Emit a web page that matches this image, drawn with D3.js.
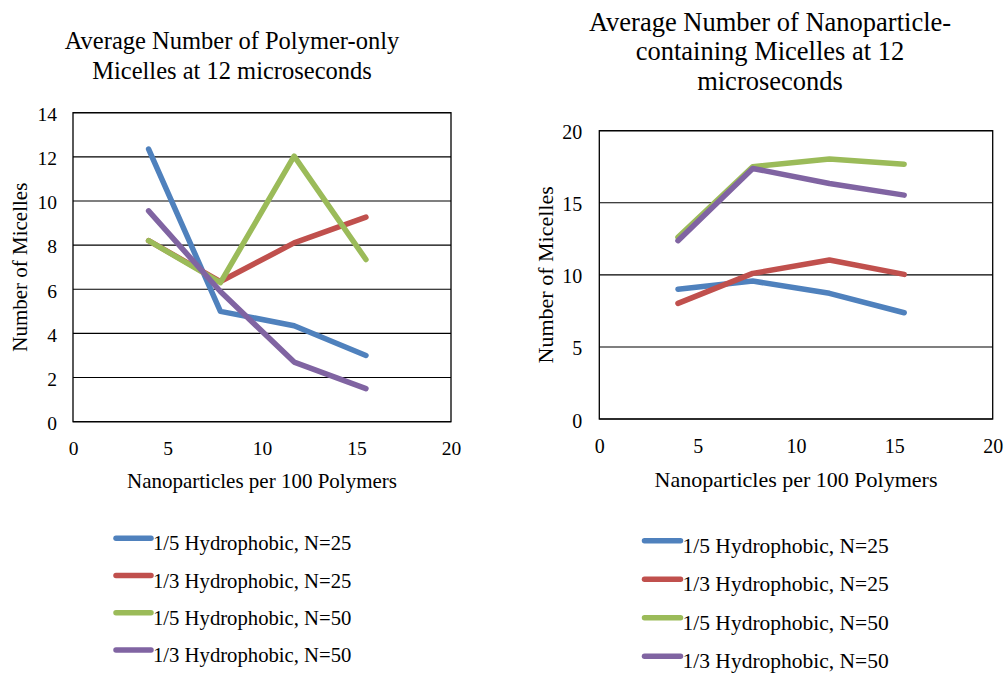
<!DOCTYPE html>
<html>
<head>
<meta charset="utf-8">
<script src="https://cdn.jsdelivr.net/npm/d3@7"></script>
<style>
  html, body { margin: 0; padding: 0; background: #fff; }
  svg { display: block; }
  text { font-family: "Liberation Serif", "Times New Roman", Times, serif; fill: #000; }
</style>
</head>
<body>
<svg id="chart" width="1005" height="677"></svg>
<script>
// Nanoparticles per 100 polymers (x positions shared by both panels)
const nanoparticles = [4, 7.8, 11.7, 15.5];

const seriesLabels = [
  "1/5 Hydrophobic, N=25",
  "1/3 Hydrophobic, N=25",
  "1/5 Hydrophobic, N=50",
  "1/3 Hydrophobic, N=50"
];
const seriesColors = ["#4F81BD", "#C0504D", "#9BBB59", "#8064A2"];

// Polymer-only micelles
const polyOnly_5_25 = [12.35, 5.0, 4.35, 3.0];
const polyOnly_3_25 = [8.2, 6.35, 8.1, 9.27];
const polyOnly_5_50 = [8.2, 6.3, 12.03, 7.35];
const polyOnly_3_50 = [9.55, 5.9, 2.7, 1.5];

// Nanoparticle-containing micelles
const npMic_5_25 = [9.0, 9.57, 8.72, 7.37];
const npMic_3_25 = [8.02, 10.1, 11.03, 10.03];
const npMic_5_50 = [12.6, 17.5, 18.03, 17.68];
const npMic_3_50 = [12.37, 17.38, 16.34, 15.53];

const xTicks = [0, 5, 10, 15, 20];
const yTicksLeft = [0, 2, 4, 6, 8, 10, 12, 14];
const yTicksRight = [0, 5, 10, 15, 20];

const svg = d3.select("#chart");

function panel(cfg) {
  const g = svg.append("g");
  const x = d3.scaleLinear().domain([0, 20]).range([cfg.left, cfg.right]);
  const y = d3.scaleLinear().domain([0, cfg.yMax]).range([cfg.bottom, cfg.top]);

  // title
  const t = g.append("text")
    .attr("text-anchor", "middle")
    .style("font-size", cfg.titleSize + "px");
  cfg.title.forEach((line, i) => {
    t.append("tspan")
      .attr("x", cfg.titleX)
      .attr("y", cfg.titleY + i * cfg.titleLead)
      .text(line);
  });

  // horizontal gridlines
  g.append("g").selectAll("line")
    .data(cfg.yTicks)
    .join("line")
    .attr("x1", cfg.left).attr("x2", cfg.right)
    .attr("y1", d => y(d)).attr("y2", d => y(d))
    .attr("stroke", "#000").attr("stroke-width", 1.1);

  // plot frame
  g.append("rect")
    .attr("x", cfg.left).attr("y", cfg.top)
    .attr("width", cfg.right - cfg.left)
    .attr("height", cfg.bottom - cfg.top)
    .attr("fill", "none").attr("stroke", "#000").attr("stroke-width", 1.3);

  // axes (labels only; the frame carries the lines)
  const xa = g.append("g")
    .attr("transform", `translate(0,${cfg.bottom})`)
    .call(d3.axisBottom(x).tickValues(xTicks).tickSize(0).tickPadding(cfg.xPad));
  const ya = g.append("g")
    .attr("transform", `translate(${cfg.left},0)`)
    .call(d3.axisLeft(y).tickValues(cfg.yTicks).tickSize(0).tickPadding(cfg.yPad));
  [xa, ya].forEach(a => {
    a.select(".domain").remove();
    a.selectAll("text")
      .style("font-family", '"Liberation Serif", "Times New Roman", serif')
      .style("font-size", cfg.tickSize + "px")
      .attr("fill", "#000");
  });
  ya.selectAll("text").attr("dy", "0.4em");

  // axis titles
  g.append("text")
    .attr("text-anchor", "middle")
    .attr("x", (cfg.left + cfg.right) / 2)
    .attr("y", cfg.xTitleY)
    .style("font-size", cfg.axisTitleSize + "px")
    .text("Nanoparticles per 100 Polymers");
  g.append("text")
    .attr("text-anchor", "middle")
    .attr("transform", `translate(${cfg.yTitleX},${(cfg.top + cfg.bottom) / 2}) rotate(-90)`)
    .style("font-size", cfg.axisTitleSize + "px")
    .text("Number of Micelles");

  // series lines
  const line = d3.line()
    .x((d, i) => x(nanoparticles[i]))
    .y(d => y(d));
  g.append("g").selectAll("path")
    .data(cfg.series)
    .join("path")
    .attr("d", d => line(d))
    .attr("fill", "none")
    .attr("stroke", (d, i) => seriesColors[i])
    .attr("stroke-width", 5.5)
    .attr("stroke-linecap", "round")
    .attr("stroke-linejoin", "round");

  // legend
  const lg = g.append("g");
  const rows = lg.selectAll("g")
    .data(seriesLabels)
    .join("g")
    .attr("transform", (d, i) => `translate(${cfg.legX},${cfg.legY + i * cfg.legStep})`);
  rows.append("line")
    .attr("x1", 0).attr("x2", cfg.legSwatch)
    .attr("y1", 0).attr("y2", 0)
    .attr("stroke", (d, i) => seriesColors[i])
    .attr("stroke-width", 5.5)
    .attr("stroke-linecap", "round");
  rows.append("text")
    .attr("x", cfg.legSwatch + 2)
    .attr("y", 12)
    .style("font-size", cfg.legSize + "px")
    .text(d => d);
}

panel({
  left: 73, right: 451, top: 112.7, bottom: 421.7, yMax: 14,
  yTicks: yTicksLeft,
  title: ["Average Number of Polymer-only", "Micelles at 12 microseconds"],
  titleX: 232, titleY: 49.3, titleLead: 30, titleSize: 24.5,
  tickSize: 19.5, xPad: 19.5, yPad: 16,
  axisTitleSize: 21, xTitleY: 488, yTitleX: 27,
  series: [polyOnly_5_25, polyOnly_3_25, polyOnly_5_50, polyOnly_3_50],
  legX: 116, legY: 538.3, legStep: 37.2, legSwatch: 35, legSize: 20.7
});

panel({
  left: 599.3, right: 992.7, top: 130.7, bottom: 419, yMax: 20,
  yTicks: yTicksRight,
  title: ["Average Number of Nanoparticle-", "containing Micelles at 12", "microseconds"],
  titleX: 770, titleY: 30.7, titleLead: 29.5, titleSize: 26.5,
  tickSize: 20, xPad: 20, yPad: 17,
  axisTitleSize: 22, xTitleY: 487, yTitleX: 553,
  series: [npMic_5_25, npMic_3_25, npMic_5_50, npMic_3_50],
  legX: 644.5, legY: 540.7, legStep: 38.5, legSwatch: 36, legSize: 21.5
});
</script>
</body>
</html>
